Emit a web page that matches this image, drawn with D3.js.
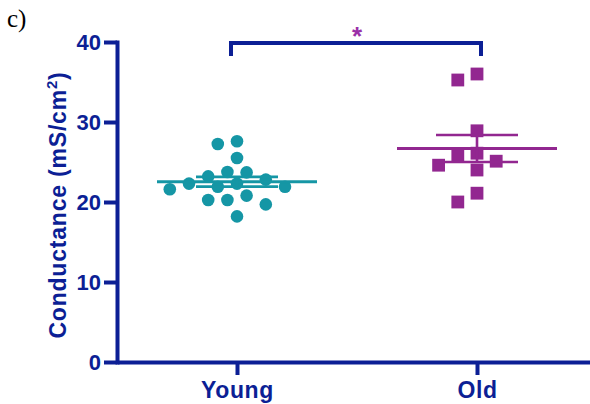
<!DOCTYPE html>
<html><head><meta charset="utf-8">
<script src="https://cdn.jsdelivr.net/npm/d3@7"></script>
<style>body{margin:0;background:#fff}svg{display:block}</style>
</head><body>
<svg id="c" width="590" height="404"></svg>
<script>
const categories = ["Young", "Old"];
const youngValues = [27.6, 27.25, 25.5, 23.2, 23.7, 23.75, 22.8, 22.3, 21.9, 21.6, 21.9, 22.3, 20.25, 20.8, 20.25, 19.7, 18.2];
const oldValues = [36.0, 35.25, 28.9, 25.8, 26.1, 24.6, 25.1, 24.0, 21.1, 20.0];
const yTicks = [0, 10, 20, 30, 40];
const yTitle = "Conductance (mS/cm";
const panelLabel = "c)";
const sigLabel = "*";

const AXIS = "#0c1f95", TEAL = "#1596a5", PURPLE = "#922790", STAR = "#9b30a8";
const svg = d3.select("#c");
const x = d3.scalePoint().domain(categories).range([117, 597]).padding(0.5);
const y = d3.scaleLinear().domain([0, 40]).range([362, 42]);

// panel label
svg.append("text").attr("x", 7).attr("y", 27).attr("font-family", "Liberation Serif, serif")
  .attr("font-size", 25).attr("fill", "#000").text(panelLabel);

// y axis
const ya = svg.append("g").attr("transform", "translate(117,0)")
  .call(d3.axisLeft(y).tickValues(yTicks).tickSize(13).tickSizeOuter(0).tickPadding(3));
ya.select(".domain").attr("stroke", AXIS).attr("stroke-width", 4).attr("stroke-linecap", "square");
ya.selectAll(".tick line").attr("stroke", AXIS).attr("stroke-width", 4);
ya.selectAll(".tick text").attr("fill", AXIS).attr("font-family", "Liberation Sans, Arial, sans-serif")
  .attr("font-weight", "bold").attr("font-size", 22);

// x axis
const xa = svg.append("g").attr("transform", "translate(0,362)")
  .call(d3.axisBottom(x).tickSize(13).tickSizeOuter(0).tickPadding(7));
xa.select(".domain").attr("stroke", AXIS).attr("stroke-width", 4);
xa.selectAll(".tick line").attr("stroke", AXIS).attr("stroke-width", 4);
xa.selectAll(".tick text").attr("fill", AXIS).attr("font-family", "Liberation Sans, Arial, sans-serif")
  .attr("font-weight", "bold").attr("font-size", 23).attr("letter-spacing", 0.6);

// y title
const t = svg.append("text").attr("transform", "translate(66,205) rotate(-90)")
  .attr("text-anchor", "middle").attr("fill", AXIS)
  .attr("font-family", "Liberation Sans, Arial, sans-serif").attr("font-weight", "bold")
  .attr("font-size", 23).attr("letter-spacing", 0.8);
t.append("tspan").text(yTitle);
t.append("tspan").attr("font-size", 15).attr("dy", -9).text("2");
t.append("tspan").attr("dy", 9).text(")");

// beeswarm layout (greedy)
function swarm(vals, cx, step, minD) {
  const placed = [];
  const order = vals.map((v, i) => i).sort((a, b) => vals[b] - vals[a]);
  order.forEach(i => {
    const py = y(vals[i]);
    for (let k = 0; k < 40; k++) {
      const cands = k === 0 ? [0] : [-k, k];
      let ok = null;
      for (const c of cands) {
        const px = cx + c * step;
        if (placed.every(p => Math.hypot(p.x - px, p.y - py) >= minD)) { ok = px; break; }
      }
      if (ok !== null) { placed.push({x: ok, y: py, v: vals[i]}); break; }
    }
  });
  return placed;
}
function stats(vals) {
  const m = d3.mean(vals), s = d3.deviation(vals) / Math.sqrt(vals.length);
  return {m, s};
}
function meanSem(vals, cat, color) {
  const cx = x(cat), st = stats(vals);
  const g = svg.append("g").attr("stroke", color).attr("fill", "none");
  g.append("line").attr("x1", cx - 80).attr("x2", cx + 80).attr("y1", y(st.m)).attr("y2", y(st.m)).attr("stroke-width", 3);
  g.append("line").attr("x1", cx - 41).attr("x2", cx + 41).attr("y1", y(st.m + st.s)).attr("y2", y(st.m + st.s)).attr("stroke-width", 2.6);
  g.append("line").attr("x1", cx - 41).attr("x2", cx + 41).attr("y1", y(st.m - st.s)).attr("y2", y(st.m - st.s)).attr("stroke-width", 2.6);
  g.append("line").attr("x1", cx).attr("x2", cx).attr("y1", y(st.m + st.s)).attr("y2", y(st.m - st.s)).attr("stroke-width", 2.6);
}

const yPts = swarm(youngValues, x("Young"), 9.6, 14);
svg.append("g").selectAll("circle").data(yPts).join("circle")
  .attr("cx", d => d.x).attr("cy", d => d.y).attr("r", 6.3).attr("fill", TEAL);
meanSem(youngValues, "Young", TEAL);

const oPts = swarm(oldValues, x("Old"), 9.6, 14);
svg.append("g").selectAll("rect").data(oPts).join("rect")
  .attr("x", d => d.x - 6.4).attr("y", d => d.y - 6.4).attr("width", 12.8).attr("height", 12.8).attr("fill", PURPLE);
meanSem(oldValues, "Old", PURPLE);

// significance bracket
const bx1 = x("Young") - 6, bx2 = x("Old") + 4, by = y(40) + 1;
svg.append("path").attr("d", `M${bx1},${by + 13}V${by}H${bx2}V${by + 13}`)
  .attr("fill", "none").attr("stroke", AXIS).attr("stroke-width", 4);
svg.append("text").attr("x", (bx1 + bx2) / 2 + 1).attr("y", 45).attr("text-anchor", "middle")
  .attr("fill", STAR).attr("font-family", "Liberation Sans, Arial, sans-serif").attr("font-weight", "bold")
  .attr("font-size", 26).text(sigLabel);
</script>
</body></html>
